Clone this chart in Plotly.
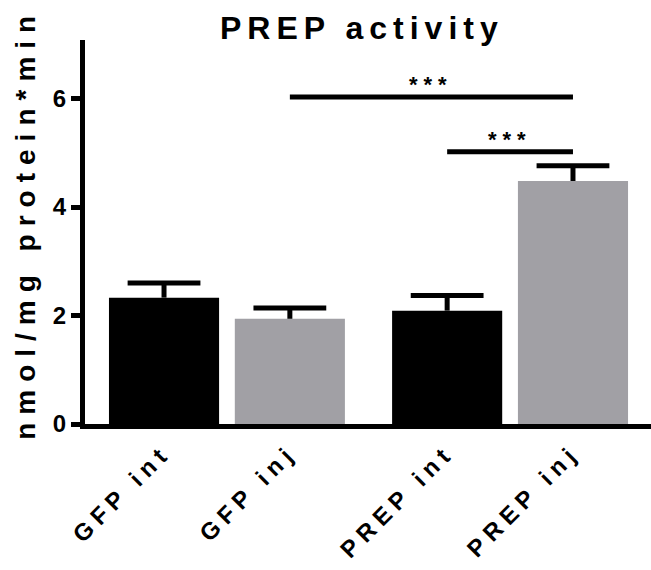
import plotly.graph_objects as go

categories = ["GFP int", "GFP inj", "PREP int", "PREP inj"]
positions = [0, 1, 2.25, 3.25]
means = [2.33, 1.94, 2.09, 4.48]
errors = [0.27, 0.20, 0.28, 0.28]
colors = ["#000000", "#a1a0a5", "#000000", "#a1a0a5"]
y_ticks = [0, 2, 4, 6]
title_text = "PREP activity"
y_title = "nmol/mg protein*min"
# significance brackets: (from index, to index, height, label)
sig_pairs = [(1, 3, 6.03, "***"), (2, 3, 5.02, "***")]

FONT = "Liberation Sans, Arial, sans-serif"

def spaced(t, px):
    return f'<span style="letter-spacing:{px}px">{t}</span>'

fig = go.Figure()
fig.add_trace(go.Bar(
    x=positions, y=means, width=0.875,
    marker=dict(color=colors, line=dict(width=0)),
    showlegend=False, hoverinfo="skip",
))
# one-sided (upper) error bars: cap marker at mean+err, stem drawn down to the mean
tops = [m + e for m, e in zip(means, errors)]
fig.add_trace(go.Scatter(
    x=positions, y=tops, mode="markers",
    marker=dict(symbol="line-ew-open", size=52, color="black", line=dict(width=5, color="black")),
    error_y=dict(type="data", array=[0]*len(errors), arrayminus=errors, symmetric=False,
                 color="black", thickness=5, width=0),
    showlegend=False,
))

for i, j, h, lab in sig_pairs:
    fig.add_shape(type="line", x0=positions[i], x1=positions[j], y0=h, y1=h,
                  xref="x", yref="y", line=dict(color="black", width=5))
    fig.add_annotation(x=(positions[i] + positions[j]) / 2, y=h, xref="x", yref="y",
                       text=spaced(lab, 6), showarrow=False, yanchor="bottom", yshift=-2, xshift=0,
                       font=dict(family=FONT, size=22, color="black", weight="bold"))

fig.add_annotation(x=(362 - 85) / 566, y=1, xref="paper", yref="paper", yshift=12,
                   text=spaced(title_text, 6), showarrow=False, yanchor="middle",
                   font=dict(family=FONT, size=32, color="black", weight="bold"))

fig.add_annotation(x=-85/566 + 26/566, y=0.52, xref="paper", yref="paper", xshift=-18,
                   text=spaced(y_title, 8), textangle=-90, showarrow=False,
                   font=dict(family=FONT, size=28, color="black", weight="bold"))

fig.update_layout(
    width=651, height=570,
    margin=dict(l=85, r=0, t=40, b=146),
    plot_bgcolor="white", paper_bgcolor="white",
    xaxis=dict(range=[-0.628, 3.87], tickvals=positions,
               ticktext=[spaced(c, 6) for c in categories],
               tickangle=-45, showline=True, linewidth=5, linecolor="black",
               ticks="", showgrid=False, zeroline=False,
               tickfont=dict(family=FONT, size=24, color="black", weight="bold")),
    yaxis=dict(range=[0, 7.08], tickvals=y_ticks, showline=True, linewidth=5, linecolor="black",
               ticks="outside", ticklen=9, tickwidth=5, tickcolor="black",
               showgrid=False, zeroline=False,
               tickfont=dict(family=FONT, size=24, color="black", weight="bold")),
)

fig.write_html("out.html")
